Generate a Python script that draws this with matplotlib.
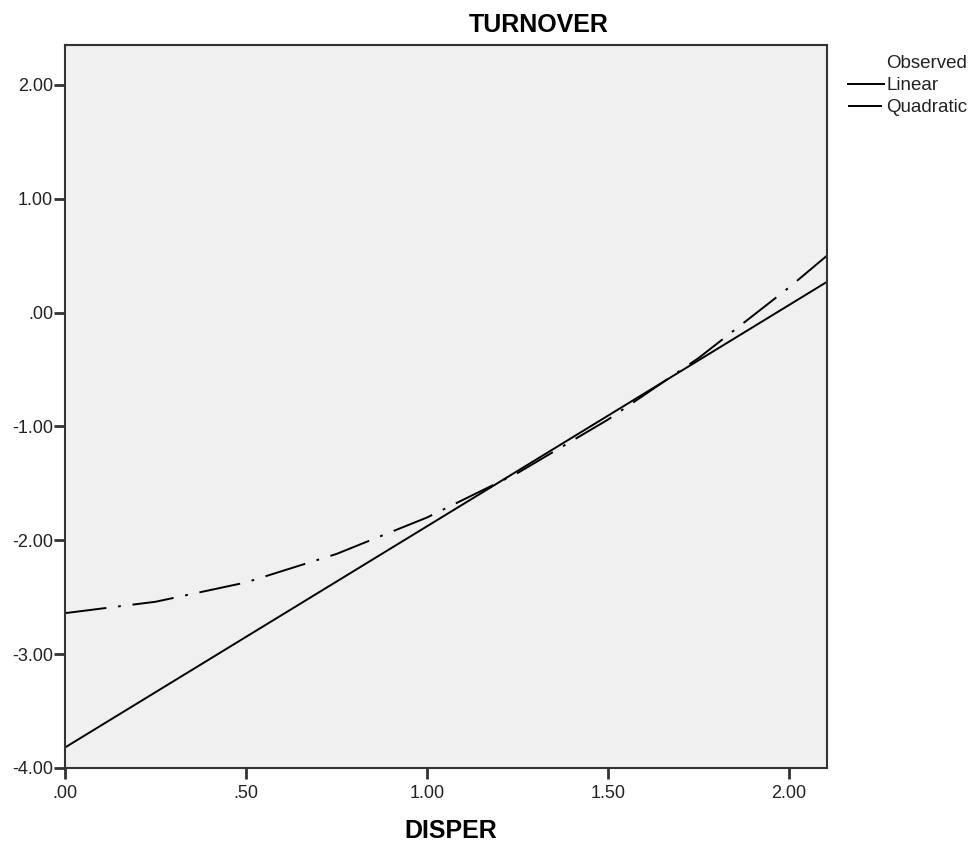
import matplotlib
matplotlib.use("Agg")
import matplotlib.pyplot as plt
from matplotlib.lines import Line2D

plt.rcParams['font.family'] = ['Liberation Sans', 'DejaVu Sans']
plt.rcParams['lines.scale_dashes'] = False

# Data
linear_x = [0.0, 2.105]
linear_y = [-3.82, 0.27]
quad_x = [0.0, 0.25, 0.5, 0.75, 1.0, 1.25, 1.5, 1.75, 2.0, 2.105]
quad_y = [-2.64, -2.54, -2.37, -2.12, -1.80, -1.41, -0.94, -0.40, 0.22, 0.50]
x_ticks = [0.0, 0.5, 1.0, 1.5, 2.0]
x_tick_labels = ['.00', '.50', '1.00', '1.50', '2.00']
y_ticks = [-4.0, -3.0, -2.0, -1.0, 0.0, 1.0, 2.0]
y_tick_labels = ['-4.00', '-3.00', '-2.00', '-1.00', '.00', '1.00', '2.00']
legend_labels = ['Observed', 'Linear', 'Quadratic']

W, H = 975, 844
fig = plt.figure(figsize=(W / 100, H / 100), dpi=100)
fig.patch.set_facecolor('white')
ax = fig.add_axes([65 / W, 1 - 768 / H, (827 - 65) / W, (768 - 45) / H])
ax.set_facecolor('#f0f0f0')

ax.plot(linear_x, linear_y, color='black', lw=1.4, solid_capstyle='butt')
ax.plot(quad_x, quad_y, color='black', lw=1.4, linestyle=(0, (30, 8.5, 2, 8.5)))

ax.set_xlim(0, 2.105)
ax.set_ylim(-4.0, 2.35)
ax.set_xticks(x_ticks)
ax.set_xticklabels(x_tick_labels)
ax.set_yticks(y_ticks)
ax.set_yticklabels(y_tick_labels)
ax.tick_params(direction='out', length=8, width=2, color='#333333',
               labelsize=13, labelcolor='#222222')
ax.tick_params(axis='y', pad=0.5)
ax.tick_params(axis='x', pad=4)
for s in ax.spines.values():
    s.set_color('#333333')
    s.set_linewidth(1.5)

fig.text(539 / W, 1 - 25 / H, 'TURNOVER', ha='center', va='center',
         fontsize=18, fontweight='bold')
fig.text(451 / W, 1 - 831 / H, 'DISPER', ha='center', va='center',
         fontsize=18, fontweight='bold')

# legend
leg_ys = [63, 85, 107]
for lab, yy in zip(legend_labels, leg_ys):
    fig.text(886 / W, 1 - yy / H, lab, ha='left', va='center', fontsize=13.5,
             color='#222222')
fig.add_artist(Line2D([848 / W, 884 / W], [1 - 84 / H, 1 - 84 / H],
                      color='black', lw=1.4, transform=fig.transFigure))
fig.add_artist(Line2D([848 / W, 882 / W], [1 - 106 / H, 1 - 106 / H],
                      color='black', lw=1.4, linestyle=(0, (26, 4, 1, 3)),
                      transform=fig.transFigure))

fig.savefig('out.png', dpi=100)
